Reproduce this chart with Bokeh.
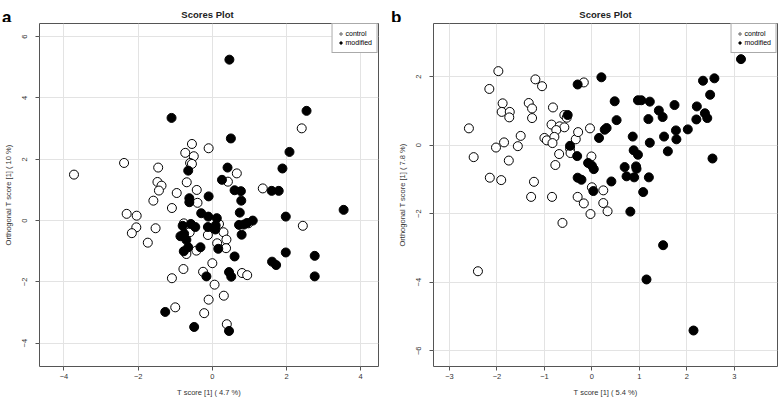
from bokeh.plotting import figure
from bokeh.layouts import row, column
from bokeh.models import Range1d, FixedTicker, Label, Legend, LegendItem
from bokeh.embed import file_html
from bokeh.resources import INLINE

# ---------------- data ----------------
a_control_x = [-3.73, -2.38, -1.46, -1.48, -1.37, -1.44, -0.96, -0.55, -0.73, -0.50, -0.60, -0.55, -0.10,
               -0.69, -0.42, 0.42, 0.66, 1.36, 2.41, -1.59, -1.09, -0.40, -2.31, -2.04, -2.05, -2.17,
               -1.53, -1.74, -0.77, -0.61, -0.12, 0.18, 0.30, 0.38, 0.13, 0.37, -0.43, -0.70, 0.00,
               -0.78, -0.25, -1.09, 0.80, 0.94, 0.06, -0.10, 0.31, -1.00, -0.22, 0.39, 2.44, 0.97]
a_control_y = [1.50, 1.88, 1.73, 1.26, 1.14, 0.98, 0.90, 2.50, 2.21, 2.10, 1.88, 1.85, 2.36,
               1.25, 1.00, 1.27, 1.54, 1.05, 3.01, 0.65, 0.41, 0.58, 0.22, 0.16, -0.22, -0.41,
               -0.25, -0.72, -0.09, -0.38, -0.47, -0.11, -0.38, -0.62, -0.74, -0.90, -0.98, -1.09, -1.39,
               -1.58, -1.67, -1.88, -1.71, -1.78, -2.09, -2.58, -2.45, -2.83, -3.02, -3.38, -0.17, -0.09]
a_modified_x = [0.46, -1.10, 0.50, 2.54, 2.08, 1.89, 0.41, -0.65, 0.26, 0.60, 0.77, 1.60, 1.79, -0.62,
                -0.62, -0.10, 0.78, -0.30, -0.11, 0.12, 0.74, 3.54, 1.98, -0.80, -0.58, -0.46, -0.12,
                0.09, 0.08, 0.72, 0.85, 0.93, 1.09, 0.79, -0.86, -0.76, -0.70, -0.65, -0.77, -0.32,
                0.16, 0.60, 1.98, 2.76, 1.61, 1.72, -0.16, 0.45, 0.51, 2.76, -1.27, -0.49, 0.45]
a_modified_y = [5.25, 3.35, 2.68, 3.58, 2.24, 1.70, 1.73, 1.63, 1.33, 0.99, 0.96, 0.97, 0.97, 0.73,
                0.60, 0.79, 0.65, 0.24, 0.13, 0.08, 0.26, 0.35, 0.13, -0.17, -0.11, -0.21, -0.21,
                -0.16, -0.29, -0.14, -0.13, -0.08, 0.00, -0.46, -0.51, -0.43, -0.63, -0.87, -1.00, -0.87,
                -0.92, -1.17, -1.04, -1.15, -1.34, -1.45, -1.82, -1.68, -1.83, -1.82, -2.98, -3.47, -3.60]

b_control_x = [-2.59, -2.49, -2.16, -1.97, -1.88, -1.90, -1.73, -1.74, -1.85, -2.02, -1.75, -2.15, -1.91,
               -1.50, -1.56, -1.19, -1.05, -1.33, -1.26, -1.26, -1.22, -1.28, -0.82, -0.58, -0.53, -0.85,
               -0.68, -0.58, -0.75, -1.00, -0.95, -0.79, -0.83, -0.69, -0.77, -0.46, -0.45, -0.34, -0.29,
               -0.17, -0.04, -0.01, 0.00, 0.24, -0.84, -0.30, -0.17, 0.24, -0.03, 0.33, -0.62, -2.40]
b_control_y = [0.49, -0.35, 1.64, 2.16, 1.22, 0.97, 0.97, 0.81, 0.08, -0.07, -0.45, -0.95, -1.02,
               0.27, -0.03, 1.92, 1.72, 1.23, 1.07, 0.79, -1.07, -1.51, 1.10, 0.88, 0.80, 0.60,
               0.55, 0.52, 0.44, 0.21, 0.14, 0.24, 0.06, -0.26, -0.58, -0.10, -0.23, 0.17, 0.38,
               1.83, 0.49, -0.33, -1.23, -1.32, -1.51, -1.51, -1.70, -1.69, -2.01, -1.93, -2.27, -3.68]
b_modified_x = [3.14, 2.34, 2.58, 2.49, 0.20, -0.30, 0.48, 0.97, 1.04, 1.22, 1.41, 1.74, 2.21, 2.38,
                2.43, 2.20, 1.49, 1.19, 0.52, -0.51, 0.31, 0.27, 2.02, 1.77, 0.15, 0.86, 1.52, 1.78,
                1.22, -0.46, 0.88, 0.97, 1.60, 2.54, -0.31, -0.08, 0.00, 0.04, 0.69, 0.93, 0.94, 0.73,
                0.89, 1.20, -0.30, -0.22, 0.41, 0.03, 1.08, 0.81, 1.50, 1.15, 2.14]
b_modified_y = [2.51, 1.88, 1.95, 1.47, 1.98, 1.77, 1.28, 1.31, 1.31, 1.27, 1.01, 1.17, 1.13, 0.93,
                0.79, 0.75, 0.82, 0.76, 0.73, 0.88, 0.50, 0.45, 0.46, 0.43, 0.21, 0.25, 0.25, 0.17,
                0.07, -0.02, -0.15, -0.28, -0.18, -0.39, -0.32, -0.52, -0.60, -0.70, -0.64, -0.62, -0.69, -0.91,
                -0.94, -0.94, -0.95, -1.01, -1.06, -1.34, -1.37, -1.94, -2.92, -3.92, -5.41]

a_xticks = [-4, -2, 0, 2, 4]
a_yticks = [-4, -2, 0, 2, 4, 6]
b_xticks = [-3, -2, -1, 0, 1, 2, 3]
b_yticks = [-6, -4, -2, 0, 2]

panel_letters = ["a", "b"]
panel_title = "Scores Plot"
group_names = ["control", "modified"]
a_xlabel = "T score [1] ( 4.7 %)"
a_ylabel = "Orthogonal T score [1] ( 10 %)"
b_xlabel = "T score [1] ( 5.4 %)"
b_ylabel = "Orthogonal T score [1] ( 7.8 %)"

FONT = "Liberation Sans"
HEAD_H = 22
MAIN_H = 383


def make_panel(cx, cy, mx, my, xticks, yticks, xr, yr, xlabel, ylabel, bl, br, width):
    bt, bb = 1, 39
    p = figure(width=width, height=MAIN_H, output_backend="svg", toolbar_location=None,
               x_range=Range1d(*xr), y_range=Range1d(*yr),
               min_border_left=bl, min_border_right=br, min_border_top=bt, min_border_bottom=bb)
    p.outline_line_color = "#555555"
    p.outline_line_width = 1
    p.background_fill_color = "white"
    p.border_fill_color = "white"

    for ax in (p.xaxis, p.yaxis):
        ax.axis_line_color = None
        ax.major_tick_line_color = "#555555"
        ax.major_tick_in = 0
        ax.major_tick_out = 4
        ax.minor_tick_line_color = None
        ax.major_label_text_font = FONT
        ax.major_label_text_font_size = "7.5px"
        ax.major_label_text_color = "#333333"
        ax.axis_label_text_font = FONT
        ax.axis_label_text_font_size = "7.5px"
        ax.axis_label_text_font_style = "normal"
        ax.axis_label_text_color = "#333333"
    p.xaxis.ticker = FixedTicker(ticks=xticks)
    p.yaxis.ticker = FixedTicker(ticks=yticks)
    p.xaxis.major_label_standoff = 3
    p.yaxis.major_label_standoff = 8
    p.yaxis.major_label_orientation = "vertical"
    p.xaxis.axis_label = xlabel
    p.yaxis.axis_label = ylabel
    p.xaxis.axis_label_standoff = 6
    p.yaxis.axis_label_standoff = 7

    p.xgrid.ticker = FixedTicker(ticks=xticks)
    p.ygrid.ticker = FixedTicker(ticks=yticks)
    p.grid.grid_line_color = "#e3e3e3"
    p.grid.grid_line_width = 1

    # small glyphs used for the legend (hidden underneath the big markers)
    lc = p.scatter(cx, cy, size=5, marker="circle", fill_color="white", line_color="#333333", line_width=0.8)
    lm = p.scatter(mx, my, size=5, marker="circle", fill_color="black", line_color="black")

    p.scatter(cx, cy, size=9, marker="circle", fill_color="white", line_color="black", line_width=1)
    p.scatter(mx, my, size=9, marker="circle", fill_color="black", line_color="black", line_width=1)

    leg = Legend(items=[LegendItem(label=group_names[0], renderers=[lc]),
                        LegendItem(label=group_names[1], renderers=[lm])],
                 location="top_right", margin=0, padding=5, spacing=0,
                 glyph_width=6, glyph_height=9, label_height=9, label_standoff=2,
                 label_text_font=FONT, label_text_font_size="7px", label_text_color="black",
                 border_line_color="#555555", border_line_width=1, background_fill_alpha=1)
    p.add_layout(leg)
    return p


WA, WB = 389, 389
BLA, BRA = 36, 11
BLB, BRB = 44, 1
TOTAL_W = WA + WB

pa = make_panel(a_control_x, a_control_y, a_modified_x, a_modified_y,
                a_xticks, a_yticks, (-4.66, 4.48), (-4.76, 6.43), a_xlabel, a_ylabel, BLA, BRA, WA)
pb = make_panel(b_control_x, b_control_y, b_modified_x, b_modified_y,
                b_xticks, b_yticks, (-3.336, 3.909), (-6.46, 3.55), b_xlabel, b_ylabel, BLB, BRB, WB)

# header strip (panel letters and titles), pixel coordinates
head = figure(width=TOTAL_W, height=HEAD_H, output_backend="svg", toolbar_location=None,
              x_range=Range1d(0, TOTAL_W), y_range=Range1d(0, HEAD_H),
              min_border_left=0, min_border_right=0, min_border_top=0, min_border_bottom=0,
              x_axis_type=None, y_axis_type=None)
head.outline_line_color = None
head.grid.visible = False
offsets = [0, WA]
lefts = [BLA, BLB]
frame_ws = [WA - BLA - BRA, WB - BLB - BRB]
for i in range(2):
    head.add_layout(Label(x=offsets[i] + lefts[i] + frame_ws[i] / 2, y=8.5, text=panel_title,
                          text_align="center", text_baseline="alphabetic", text_font=FONT,
                          text_font_size="9.5px", text_font_style="bold", text_color="#222222"))
    head.add_layout(Label(x=offsets[i] + 1.5, y=5.5, text=panel_letters[i],
                          text_align="left", text_baseline="alphabetic", text_font=FONT,
                          text_font_size="17px", text_font_style="bold", text_color="black"))

layout = column(head, row(pa, pb, spacing=0), spacing=0)
open("out.html", "w").write(file_html(layout, INLINE))
